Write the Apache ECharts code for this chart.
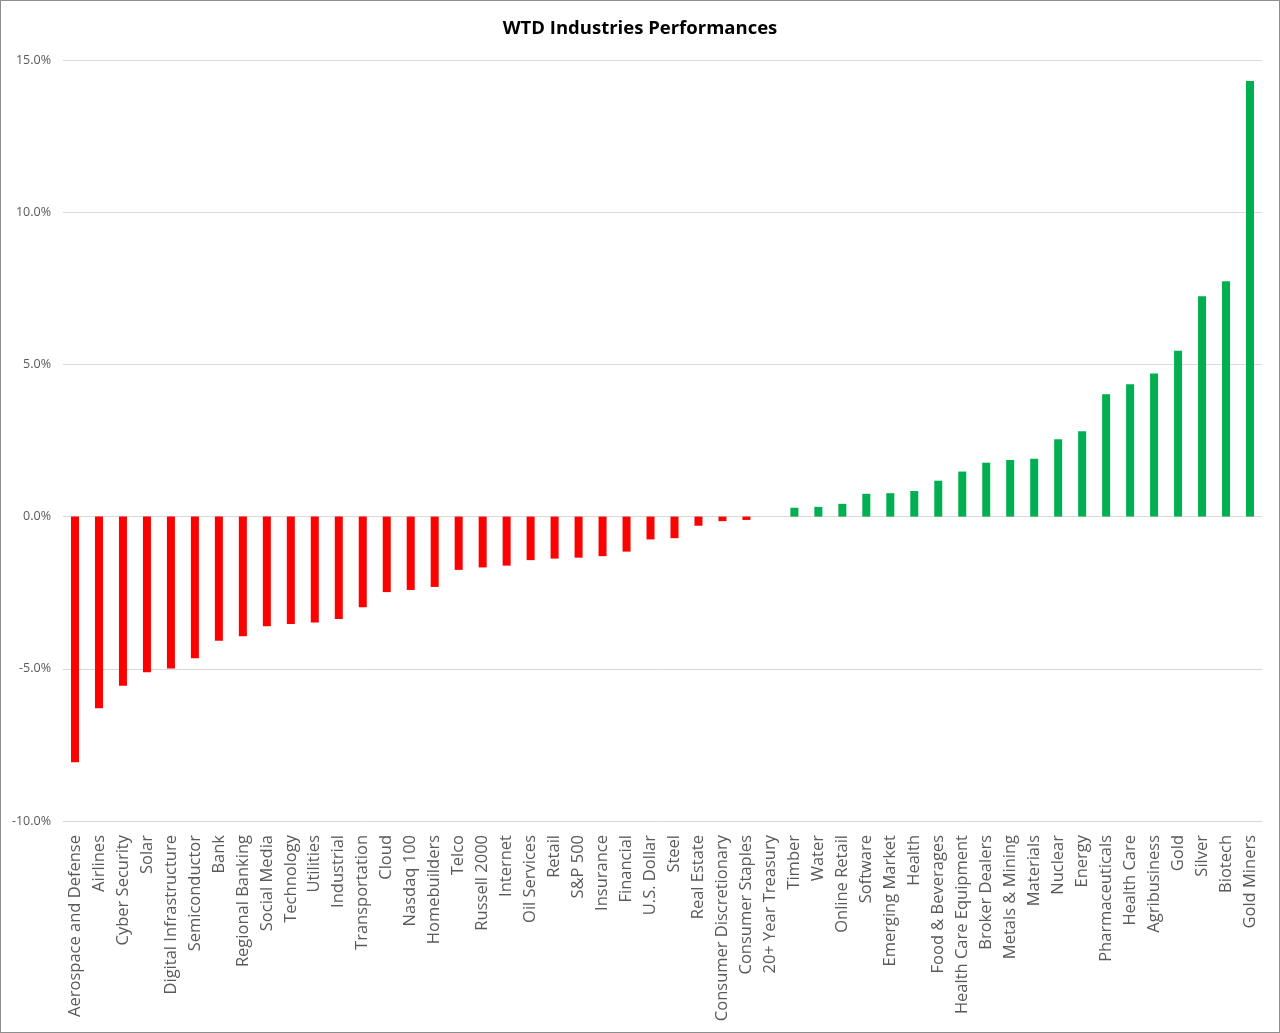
<!DOCTYPE html>
<html>
<head>
<meta charset="utf-8">
<script src="https://cdn.jsdelivr.net/npm/echarts@6/dist/echarts.min.js"></script>
<style>
html,body{margin:0;padding:0;background:#fff;}
#c{width:1278px;height:1031px;border:1px solid #8e8e8e;}
</style>
</head>
<body>
<div id="c"></div>
<script>
const categories = ["Aerospace and Defense","Airlines","Cyber Security","Solar","Digital Infrastructure","Semiconductor","Bank","Regional Banking","Social Media","Technology","Utilities","Industrial","Transportation","Cloud","Nasdaq 100","Homebuilders","Telco","Russell 2000","Internet","Oil Services","Retail","S&P 500","Insurance","Financial","U.S. Dollar","Steel","Real Estate","Consumer Discretionary","Consumer Staples","20+ Year Treasury","Timber","Water","Online Retail","Software","Emerging Market","Health","Food & Beverages","Health Care Equipment","Broker Dealers","Metals & Mining","Materials","Nuclear","Energy","Pharmaceuticals","Health Care","Agribusiness","Gold","Silver","Biotech","Gold Miners"];
const values = [-8.07,-6.30,-5.56,-5.11,-4.99,-4.65,-4.08,-3.93,-3.60,-3.53,-3.48,-3.36,-2.98,-2.48,-2.41,-2.31,-1.75,-1.67,-1.61,-1.43,-1.38,-1.35,-1.30,-1.15,-0.75,-0.71,-0.30,-0.15,-0.11,0.0,0.29,0.32,0.42,0.75,0.77,0.84,1.18,1.48,1.77,1.86,1.90,2.54,2.80,4.02,4.35,4.70,5.45,7.24,7.73,14.31];
const yTicks = {min:-10, max:15, interval:5};
const title = "WTD Industries Performances";

const chart = echarts.init(document.getElementById('c'));
chart.setOption({
  animation:false,
  backgroundColor:'#fff',
  title:{text:title,left:'center',top:13,textStyle:{fontFamily:'Open Sans',fontSize:18.5,fontWeight:'bold',color:'#000'}},
  grid:{left:62,right:17,top:59,bottom:211,containLabel:false},
  xAxis:{type:'category',data:categories,
    axisLine:{show:false},axisTick:{show:false},
    axisLabel:{rotate:90,interval:0,margin:14,fontFamily:'Open Sans',fontSize:16.5,color:'#595959'}},
  yAxis:{type:'value',min:yTicks.min,max:yTicks.max,interval:yTicks.interval,
    axisLine:{show:false},axisTick:{show:false},
    axisLabel:{formatter:v=>v.toFixed(1)+'%',fontFamily:'Open Sans',fontSize:12.5,color:'#595959',margin:12},
    splitLine:{lineStyle:{color:'#d9d9d9',width:1}}},
  series:[{type:'bar',data:values.map(v=>({value:v,itemStyle:{color:v<0?'#ff0000':'#00b050'}})),barWidth:8}]
});
</script>
</body>
</html>
